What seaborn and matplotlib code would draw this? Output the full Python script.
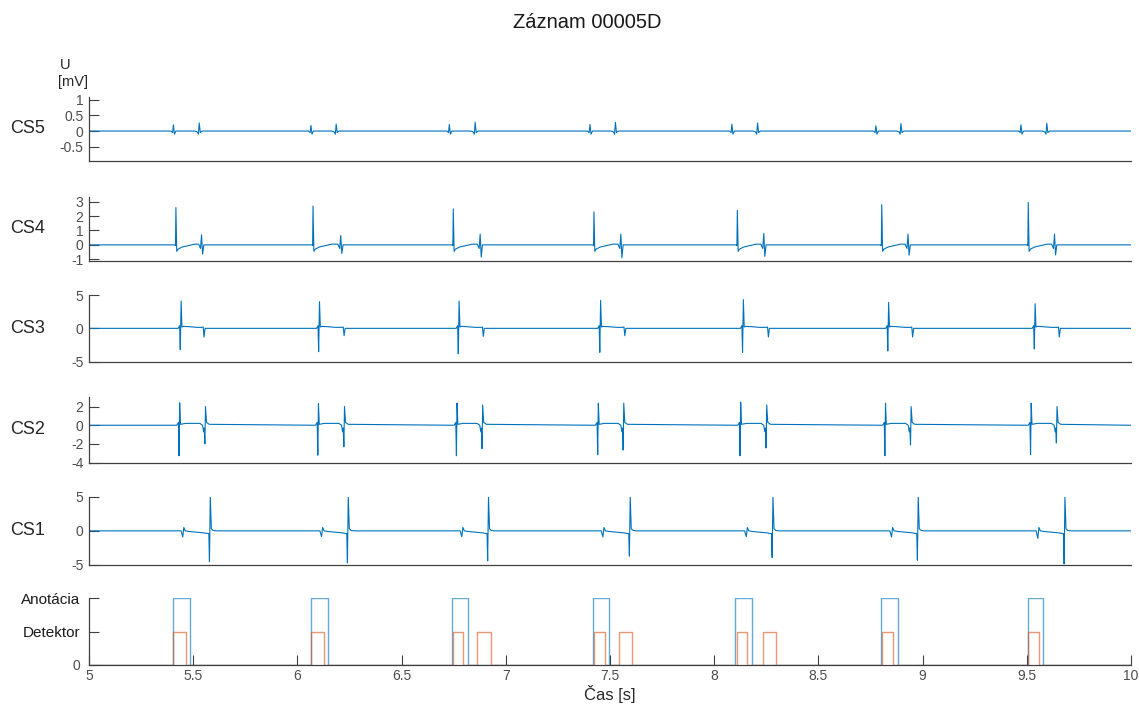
import matplotlib
matplotlib.use('Agg')
import matplotlib.pyplot as plt
from matplotlib.ticker import FormatStrFormatter
import seaborn as sns

# event times [s]
cs5_first_t = [5.405, 6.065, 6.729, 7.404, 8.085, 8.776, 9.472]
cs5_first_up = [0.20, 0.18, 0.21, 0.21, 0.22, 0.17, 0.20]
cs5_second_t = [5.528, 6.185, 6.852, 7.525, 8.207, 8.895, 9.595]
cs5_second_up = [0.26, 0.22, 0.28, 0.28, 0.26, 0.24, 0.25]

cs4_spike_t = [5.417, 6.075, 6.748, 7.423, 8.111, 8.804, 9.507]
cs4_spike_up = [2.6, 2.7, 2.5, 2.3, 2.4, 2.8, 2.95]
cs4_second_t = [5.541, 6.209, 6.878, 7.553, 8.239, 8.931, 9.634]
cs4_second_up = [0.70, 0.65, 0.75, 0.75, 0.80, 0.75, 0.75]
cs4_second_dn = [-0.65, -0.60, -0.85, -0.90, -0.80, -0.72, -0.70]

cs3_spike_t = [5.440, 6.104, 6.774, 7.453, 8.138, 8.835, 9.538]
cs3_spike_up = [4.1, 4.0, 4.1, 4.2, 4.3, 3.9, 3.7]
cs3_spike_dn = [-3.2, -3.5, -3.8, -3.6, -3.6, -3.4, -3.1]
cs3_second_t = [5.552, 6.224, 6.892, 7.571, 8.260, 8.952, 9.656]
cs3_second_dn = [-1.3, -1.1, -1.2, -1.1, -1.3, -1.3, -1.3]

cs2_first_t = [5.433, 6.099, 6.764, 7.442, 8.125, 8.820, 9.519]
cs2_first_up = [2.40, 2.30, 2.36, 2.36, 2.47, 2.36, 2.36]
cs2_first_dn = [-3.26, -3.20, -3.26, -3.15, -3.26, -3.26, -3.15]
cs2_second_t = [5.557, 6.224, 6.887, 7.564, 8.250, 8.943, 9.643]
cs2_second_up = [2.00, 2.00, 2.17, 2.36, 2.17, 2.00, 2.00]
cs2_second_dn = [-2.00, -2.30, -2.50, -2.65, -2.43, -2.10, -1.90]

cs1_small_t = [5.452, 6.118, 6.791, 7.468, 8.156, 8.853, 9.555]
cs1_small_dn = [-0.90, -0.85, -0.85, -0.90, -0.85, -0.90, -1.10]
cs1_big_t = [5.581, 6.243, 6.916, 7.596, 8.281, 8.978, 9.682]
cs1_big_up = [5.1, 5.0, 5.0, 5.0, 5.0, 5.0, 5.05]
cs1_big_dn = [-4.5, -4.7, -4.4, -3.7, -3.9, -4.3, -4.85]

anot_start = [5.403, 6.065, 6.740, 7.417, 8.100, 8.799, 9.504]
anot_end = [5.484, 6.148, 6.820, 7.497, 8.183, 8.883, 9.579]
det_start = [5.403, 6.064, 6.745, 6.863, 7.423, 7.545, 8.108, 8.236, 8.807, 9.507]
det_end = [5.465, 6.126, 6.796, 6.930, 7.476, 7.607, 8.159, 8.297, 8.860, 9.560]

channels = ['CS5', 'CS4', 'CS3', 'CS2', 'CS1']
ylims = [(-0.95, 1.1), (-1.1, 3.35), (-5, 5), (-4, 3.05), (-5, 5)]
yticks = [[-0.5, 0, 0.5, 1], [-1, 0, 1, 2, 3], [-5, 0, 5], [-4, -2, 0, 2], [-5, 0, 5]]

BLUE = '#0072BD'
ORANGE = '#D95319'
AX_COL = '#404040'


def trace(parts):
    xs, ys = [5.0], [0.0]
    for t, dts, vs in sorted(parts, key=lambda p: p[0]):
        xs += [t + d for d in dts]
        ys += list(vs)
    xs.append(10.0)
    ys.append(0.0)
    return xs, ys


def steps(starts, ends, level):
    xs, ys = [5.0], [0.0]
    for a, b in zip(starts, ends):
        xs += [a, a, b, b]
        ys += [0, level, level, 0]
    xs.append(10.0)
    ys.append(0.0)
    return xs, ys


# build polylines per channel
parts5 = []
for t, a in zip(cs5_first_t, cs5_first_up):
    parts5.append((t, [-0.012, -0.004, 0.0, 0.005, 0.012], [0, -0.05, a, -0.1, 0]))
for t, a in zip(cs5_second_t, cs5_second_up):
    parts5.append((t, [-0.02, -0.008, -0.003, 0.001, 0.006, 0.015], [0, -0.03, -0.1, a, -0.05, 0]))

parts4 = []
for t, a in zip(cs4_spike_t, cs4_spike_up):
    parts4.append((t, [-0.006, -0.002, 0.0, 0.004, 0.010, 0.030, 0.060, 0.090],
                   [0, -0.05, a, -0.45, -0.3, -0.15, -0.05, 0.05]))
for t, a, b in zip(cs4_second_t, cs4_second_up, cs4_second_dn):
    parts4.append((t, [-0.015, -0.006, -0.001, 0.004, 0.010], [0.05, -0.25, a, b, 0.0]))

parts3 = []
for t, a, b in zip(cs3_spike_t, cs3_spike_up, cs3_spike_dn):
    parts3.append((t, [-0.012, -0.005, -0.002, 0.002, 0.006, 0.012, 0.04, 0.08],
                   [0, 0.4, b, a, 0.2, 0.3, 0.25, 0.15]))
for t, b in zip(cs3_second_t, cs3_second_dn):
    parts3.append((t, [-0.01, -0.004, 0.0, 0.005, 0.015], [0.15, 0.2, b, 0.0, 0.0]))

parts2 = []
for t, a, b in zip(cs2_first_t, cs2_first_up, cs2_first_dn):
    parts2.append((t, [-0.012, -0.004, -0.001, 0.002, 0.006, 0.03, 0.08],
                   [0, 0.3, b, a, 0.1, 0.2, 0.2]))
for t, a, b in zip(cs2_second_t, cs2_second_up, cs2_second_dn):
    parts2.append((t, [-0.025, -0.012, -0.007, -0.004, -0.001, 0.002, 0.007, 0.02],
                   [0.2, 0.0, -0.7, -0.3, b, a, 0.3, 0.1]))

parts1 = []
for t, b in zip(cs1_small_t, cs1_small_dn):
    parts1.append((t, [-0.010, -0.002, 0.003, 0.010, 0.03, 0.1], [0.0, b, 0.5, 0.0, -0.1, -0.3]))
for t, a, b in zip(cs1_big_t, cs1_big_up, cs1_big_dn):
    parts1.append((t, [-0.02, -0.006, -0.003, 0.001, 0.006, 0.015, 0.03],
                   [-0.35, -0.4, b, a, 0.3, 0.05, 0.0]))

signals = [trace(parts5), trace(parts4), trace(parts3), trace(parts2), trace(parts1)]

sns.set_style('white')
plt.rcParams['font.family'] = ['Liberation Sans', 'DejaVu Sans']

fig = plt.figure(figsize=(11.39, 7.05), dpi=100)
W, H = 1139.0, 705.0
left = 89 / W
width = (1131 - 89) / W
# (top px, bottom px) of each panel
panel_px = [(96.7, 160.7), (196.7, 260.7), (295.0, 361.7), (396.7, 462.7), (496.7, 565.0), (598.0, 665.0)]


def make_ax(top, bot):
    ax = fig.add_axes([left, 1 - bot / H, width, (bot - top) / H])
    ax.set_xlim(5, 10)
    for s in ['top', 'right']:
        ax.spines[s].set_visible(False)
    for s in ['left', 'bottom']:
        ax.spines[s].set_color(AX_COL)
        ax.spines[s].set_linewidth(0.9)
    ax.tick_params(bottom=True, left=True, direction='in', length=7, width=0.8, color=AX_COL,
                   labelsize=10, labelcolor='#4d4d4d', pad=4)
    return ax


for i, name in enumerate(channels):
    top, bot = panel_px[i]
    ax = make_ax(top, bot)
    xs, ys = signals[i]
    sns.lineplot(x=xs, y=ys, ax=ax, color=BLUE, linewidth=0.8, sort=False, estimator=None)
    ax.set_ylim(*ylims[i])
    ax.set_yticks(yticks[i])
    ax.yaxis.set_major_formatter(FormatStrFormatter('%g'))
    ax.set_xticks([])
    ax.set_xlabel('')
    fig.text(10 / W, 1 - (top + bot) / 2 / H, name, ha='left', va='center',
             fontsize=13, color='#262626')

# U [mV] label above top panel
fig.text(60 / W, 1 - 65 / H, 'U', ha='left', va='center', fontsize=10.5, color='#262626')
fig.text(58 / W, 1 - 82 / H, '[mV]', ha='left', va='center', fontsize=10.5, color='#262626')

# annotation / detector panel
top, bot = panel_px[5]
ax = make_ax(top, bot)
ax_x, ax_y = steps(anot_start, anot_end, 2)
dx, dy = steps(det_start, det_end, 1)
sns.lineplot(x=ax_x, y=ax_y, ax=ax, color=BLUE, linewidth=1.0, alpha=0.6, sort=False, estimator=None)
sns.lineplot(x=dx, y=dy, ax=ax, color=ORANGE, linewidth=1.0, alpha=0.6, sort=False, estimator=None)
ax.set_ylim(0, 2)
ax.set_yticks([0, 1, 2])
ax.set_yticklabels(['0', 'Detektor', 'Anotácia'])
ax.tick_params(axis='y', pad=6)
ax.tick_params(axis='x', pad=3)
for lab in ax.get_yticklabels()[1:]:
    lab.set_fontsize(11)
    lab.set_color('#1a1a1a')
xt = [5 + 0.5 * k for k in range(11)]
ax.set_xticks(xt)
ax.xaxis.set_major_formatter(FormatStrFormatter('%g'))
ax.set_xlabel('Čas [s]', fontsize=12, color='#262626', labelpad=1)

fig.text(587 / W, 1 - 22 / H, 'Záznam 00005D', ha='center', va='center', fontsize=14.5, color='#1a1a1a')

fig.savefig('out.png', dpi=100)
